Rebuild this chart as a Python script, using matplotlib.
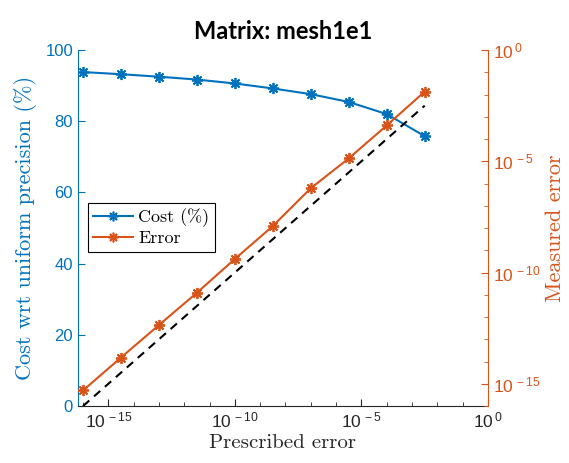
import numpy as np
import matplotlib
matplotlib.use("Agg")
import matplotlib.pyplot as plt
from matplotlib.ticker import FixedLocator, NullFormatter, FuncFormatter
from matplotlib.lines import Line2D

# prescribed error (x), log10 values
log_prescribed = [-16, -14.5, -13, -11.5, -10, -8.5, -7, -5.5, -4, -2.5]
cost_pct = [93.8, 93.2, 92.5, 91.7, 90.6, 89.2, 87.6, 85.4, 82.0, 75.8]
log_measured = [-15.30, -13.82, -12.36, -10.91, -9.39, -7.91, -6.21, -4.87, -3.39, -1.87]

blue = "#0072BD"
orange = "#D95319"
dark = "#262626"

plt.rcParams["font.family"] = ["Liberation Sans", "DejaVu Sans"]
plt.rcParams["mathtext.fontset"] = "custom"
plt.rcParams["mathtext.rm"] = "Liberation Sans"
plt.rcParams["mathtext.it"] = "Liberation Sans:italic"
plt.rcParams["mathtext.bf"] = "Liberation Sans:bold"


def pow10(v, pos):
    k = int(round(np.log10(v)))
    return r"$\mathrm{10^{\,%d}}$" % k


def main() -> None:
    x = 10.0 ** np.array(log_prescribed)
    err = 10.0 ** np.array(log_measured)

    fig = plt.figure(figsize=(5.69, 4.63), dpi=100)
    ax = fig.add_axes([0.137, 0.123, 0.7206, 0.769])
    ax2 = ax.twinx()

    ax.plot(x, cost_pct, color=blue, lw=1.5, marker=(8, 2, 0), ms=8, mew=1.3)
    ax2.plot(x, x, color="black", lw=1.5, ls=(0, (4, 3)))
    ax2.plot(x, err, color=orange, lw=1.5, marker=(8, 2, 0), ms=8, mew=1.3)

    ax.set_xscale("log")
    ax.set_xlim(10 ** -16.2, 1)
    ax.set_ylim(0, 100)
    ax2.set_yscale("log")
    ax2.set_ylim(1e-16, 1)

    ax.xaxis.set_major_locator(FixedLocator([1e-15, 1e-10, 1e-5, 1e0]))
    ax.xaxis.set_major_formatter(FuncFormatter(pow10))
    ax.xaxis.set_minor_locator(FixedLocator([10.0 ** k for k in range(-16, 1)]))
    ax.xaxis.set_minor_formatter(NullFormatter())
    ax.set_yticks([0, 20, 40, 60, 80, 100])
    ax2.yaxis.set_major_locator(FixedLocator([1e-15, 1e-10, 1e-5, 1e0]))
    ax2.yaxis.set_major_formatter(FuncFormatter(pow10))
    ax2.yaxis.set_minor_locator(FixedLocator([10.0 ** k for k in range(-16, 1)]))
    ax2.yaxis.set_minor_formatter(NullFormatter())

    for a in (ax, ax2):
        a.spines["top"].set_visible(False)
    ax.spines["right"].set_visible(False)
    ax.spines["left"].set_color(blue)
    ax.spines["bottom"].set_color(dark)
    ax2.spines["left"].set_visible(False)
    ax2.spines["bottom"].set_visible(False)
    ax2.spines["right"].set_color(orange)

    ax.tick_params(axis="x", which="both", direction="in", colors=dark, labelsize=12.5)
    ax.tick_params(axis="x", which="major", length=5)
    ax.tick_params(axis="x", which="minor", length=3)
    ax.tick_params(axis="y", direction="in", colors=blue, labelsize=12, length=5)
    ax2.tick_params(axis="y", which="both", direction="in", colors=orange, labelsize=12.5)
    ax2.tick_params(axis="y", which="major", length=5)
    ax2.tick_params(axis="y", which="minor", length=3)

    cm_x = {"family": "cmr10", "size": 15}
    cm_y = {"family": "cmr10", "size": 16}
    ax.set_xlabel("Prescribed error", fontdict=cm_x, color=dark, labelpad=2)
    ax.set_ylabel("Cost wrt uniform precision (%)", fontdict=cm_y, color=blue, labelpad=6)
    ax2.set_ylabel("Measured error", fontdict=cm_y, color=orange, labelpad=4)
    ax.set_title("Matrix: mesh1e1", fontsize=17, fontweight="bold",
                 family="Lato", pad=8)

    handles = [
        Line2D([], [], color=blue, lw=1.5, marker=(8, 2, 0), ms=7, mew=1.2),
        Line2D([], [], color=orange, lw=1.5, marker=(8, 2, 0), ms=7, mew=1.2),
    ]
    leg = ax2.legend(handles, ["Cost (%)", "Error"], loc="upper left",
                     bbox_to_anchor=(0.024, 0.57), prop={"family": "cmr10", "size": 13},
                     fancybox=False, edgecolor="black", framealpha=1,
                     handlelength=2.2, handletextpad=0.3, borderpad=0.3,
                     labelspacing=0.2, borderaxespad=0)
    leg.get_frame().set_linewidth(0.8)

    fig.savefig("out.png", dpi=100)
    plt.close(fig)


if __name__ == "__main__":
    main()
